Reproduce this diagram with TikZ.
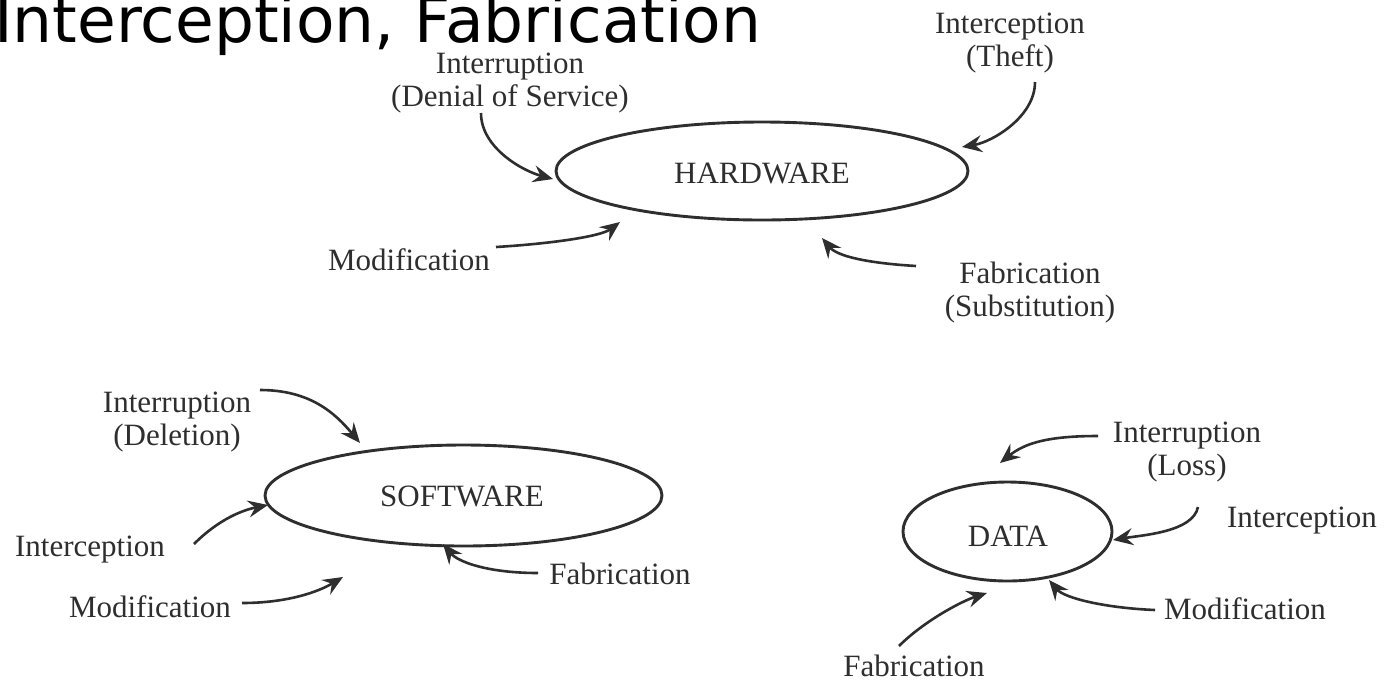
\documentclass[tikz,border=0pt]{standalone}
\usepackage{fontspec}
\setmainfont{Liberation Serif}
\newfontfamily\titlefont{DejaVu Sans}
\usetikzlibrary{arrows.meta,shapes.geometric}
\definecolor{ink}{HTML}{2E2E2E}
\begin{document}
\begin{tikzpicture}[x=1pt,y=-1pt,
 lbl/.style={text=ink,font=\fontsize{31}{33}\selectfont,inner sep=0pt,align=center},
 asset/.style={ellipse,draw=ink,line width=2.9pt,inner sep=0pt,text=ink,font=\fontsize{31}{33}\selectfont},
 threat/.style={draw=ink,line width=2.6pt,-{Stealth[length=20pt,width=17pt,inset=7pt]}}]
\useasboundingbox (0,0) rectangle (1384,681);
\fill[white] (0,0) rectangle (1384,681);
% title
\node[anchor=base west,inner sep=0pt,font=\titlefont\fontsize{63}{70}\selectfont] (title) at (-6,42) {Interception, Fabrication};
% assets
\node[asset,minimum width=412pt,minimum height=98pt] (hw) at (762,171) {};
\node[lbl,anchor=base] (hwt) at (762,183) {HARDWARE};
\node[asset,minimum width=397pt,minimum height=101pt] (sw) at (463.5,495.5) {};
\node[lbl,anchor=base] (swt) at (462,506) {SOFTWARE};
\node[asset,minimum width=209pt,minimum height=99pt] (dt) at (1007.5,531.5) {};
\node[lbl,anchor=base] (dtt) at (1008,546) {DATA};
% hardware labels (base = last line)
\node[lbl,anchor=base] (hw1) at (510,106) {Interruption\\(Denial of Service)};
\node[lbl,anchor=base] (hw2) at (1010,66) {Interception\\(Theft)};
\node[lbl,anchor=base] (hw3) at (409,270) {Modification};
\node[lbl,anchor=base] (hw4) at (1030,316) {Fabrication\\(Substitution)};
% software labels
\node[lbl,anchor=base] (sw1) at (177,445) {Interruption\\(Deletion)};
\node[lbl,anchor=base] (sw2) at (90,556) {Interception};
\node[lbl,anchor=base] (sw3) at (150,617) {Modification};
\node[lbl,anchor=base] (sw4) at (620,584) {Fabrication};
% data labels
\node[lbl,anchor=base] (dt1) at (1187,475) {Interruption\\(Loss)};
\node[lbl,anchor=base] (dt2) at (1302,527) {Interception};
\node[lbl,anchor=base] (dt3) at (1245,619) {Modification};
\node[lbl,anchor=base] (dt4) at (914,676) {Fabrication};
% arrow ends
\coordinate (a1s) at (481,113); \coordinate (a1e) at (553,179);
\coordinate (a2s) at (1035,82); \coordinate (a2e) at (962,147);
\coordinate (a3s) at (496,247); \coordinate (a3e) at (620,222);
\coordinate (a4s) at (916,266); \coordinate (a4e) at (822,238);
\coordinate (b1s) at (260,390); \coordinate (b1e) at (360,443);
\coordinate (b2s) at (194,544); \coordinate (b2e) at (268,505);
\coordinate (b3s) at (242,603); \coordinate (b3e) at (343,577);
\coordinate (b4s) at (538,573); \coordinate (b4e) at (443,544);
\coordinate (c1s) at (1098,436); \coordinate (c1e) at (1000,463);
\coordinate (c2s) at (1198,507); \coordinate (c2e) at (1113,540);
\coordinate (c3s) at (1155,610); \coordinate (c3e) at (1049,580);
\coordinate (c4s) at (899,646); \coordinate (c4e) at (987,593);
% arrows
\draw[threat] (a1s) .. controls +(0,35) and +(-30,-8) .. (a1e);
\draw[threat] (a2s) .. controls +(0,35) and +(30,-5) .. (a2e);
\draw[threat] (a3s) .. controls +(50,-3) and +(-20,15) .. (a3e);
\draw[threat] (a4s) .. controls +(-50,-3) and +(15,18) .. (a4e);
\draw[threat] (b1s) .. controls +(50,0) and +(-25,-30) .. (b1e);
\draw[threat] (b2s) .. controls +(25,-25) and +(-25,5) .. (b2e);
\draw[threat] (b3s) .. controls +(45,0) and +(-25,15) .. (b3e);
\draw[threat] (b4s) .. controls +(-50,0) and +(15,18) .. (b4e);
\draw[threat] (c1s) .. controls +(-50,0) and +(25,-20) .. (c1e);
\draw[threat] (c2s) .. controls +(-5,25) and +(30,-5) .. (c2e);
\draw[threat] (c3s) .. controls +(-50,-2) and +(15,18) .. (c3e);
\draw[threat] (c4s) .. controls +(25,-25) and +(-25,8) .. (c4e);
\end{tikzpicture}
\end{document}
